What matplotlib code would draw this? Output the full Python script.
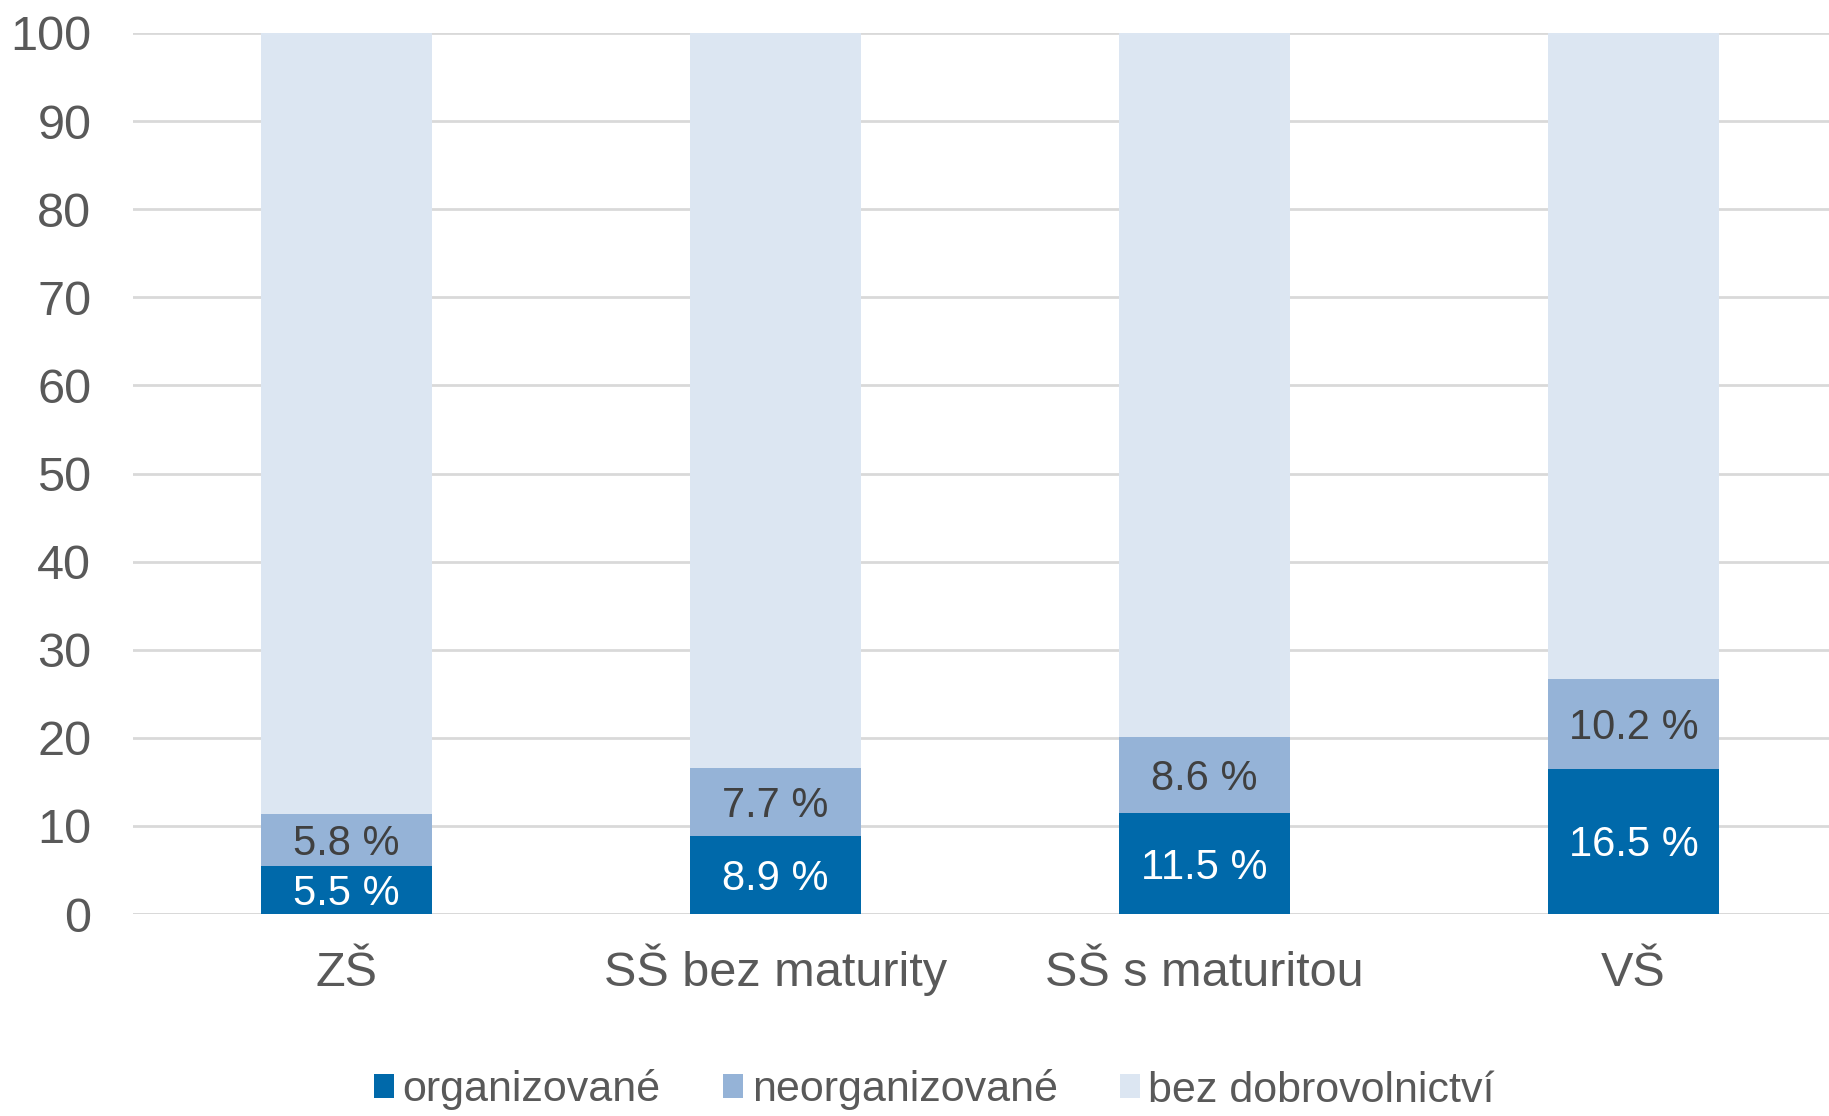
import matplotlib
matplotlib.use("Agg")
import matplotlib.pyplot as plt
from matplotlib.patches import Patch
import numpy as np

plt.rcParams['font.family'] = ['Liberation Sans', 'DejaVu Sans']

categories = ["ZŠ", "SŠ bez maturity", "SŠ s maturitou", "VŠ"]
organizovane = [5.5, 8.9, 11.5, 16.5]
neorganizovane = [5.8, 7.7, 8.6, 10.2]
bez = [100 - a - b for a, b in zip(organizovane, neorganizovane)]
series_names = ["organizované", "neorganizované", "bez dobrovolnictví"]
colors = ["#0069AA", "#95B3D7", "#DCE6F2"]
yticks = [0, 10, 20, 30, 40, 50, 60, 70, 80, 90, 100]

fig = plt.figure(figsize=(18.29, 11.16), dpi=100)
ax = fig.add_axes([133/1829, 1 - 914/1116, 1 - 133/1829, (914 - 33)/1116])

x = np.arange(len(categories))
w = 0.4
ax.bar(x, organizovane, w, color=colors[0], zorder=3)
ax.bar(x, neorganizovane, w, bottom=organizovane, color=colors[1], zorder=3)
ax.bar(x, bez, w, bottom=np.array(organizovane) + np.array(neorganizovane), color=colors[2], zorder=3)

for i in range(len(categories)):
    ax.annotate(f"{organizovane[i]:.1f} %", (x[i], organizovane[i] / 2), xytext=(0, -3),
                textcoords='offset points', ha='center', va='center',
                color='white', fontsize=30, zorder=4)
    ax.annotate(f"{neorganizovane[i]:.1f} %", (x[i], organizovane[i] + neorganizovane[i] / 2),
                xytext=(0, -3), textcoords='offset points', ha='center',
                va='center', color='#404040', fontsize=30, zorder=4)

ax.set_xlim(-0.498, 3.456)
ax.set_ylim(0, 100)
ax.set_yticks(yticks)
ax.set_yticklabels([str(t) for t in yticks])
ax.set_xticks(x)
ax.set_xticklabels(categories)
ax.tick_params(axis='y', length=0, pad=30, labelsize=35, labelcolor='#595959')
ax.tick_params(axis='x', length=0, pad=52, labelsize=35, labelcolor='#595959')
for t in ax.get_xticklabels():
    t.set_va('baseline')
ax.grid(axis='y', color='#D9D9D9', linewidth=2, zorder=0)
for s in ax.spines.values():
    s.set_visible(False)
ax.axhline(0, color='#D9D9D9', linewidth=2, zorder=2)

handles = [Patch(facecolor=c, edgecolor='none') for c in colors]
fig.legend(handles, series_names, loc='center', bbox_to_anchor=(0.511, 1 - 1090/1116),
           ncol=3, frameon=False, fontsize=31, handlelength=0.46, handleheight=0.46,
           handletextpad=0.2, columnspacing=1.45, labelcolor='#595959',
           borderpad=0.0)

fig.savefig("out.png", dpi=100)
